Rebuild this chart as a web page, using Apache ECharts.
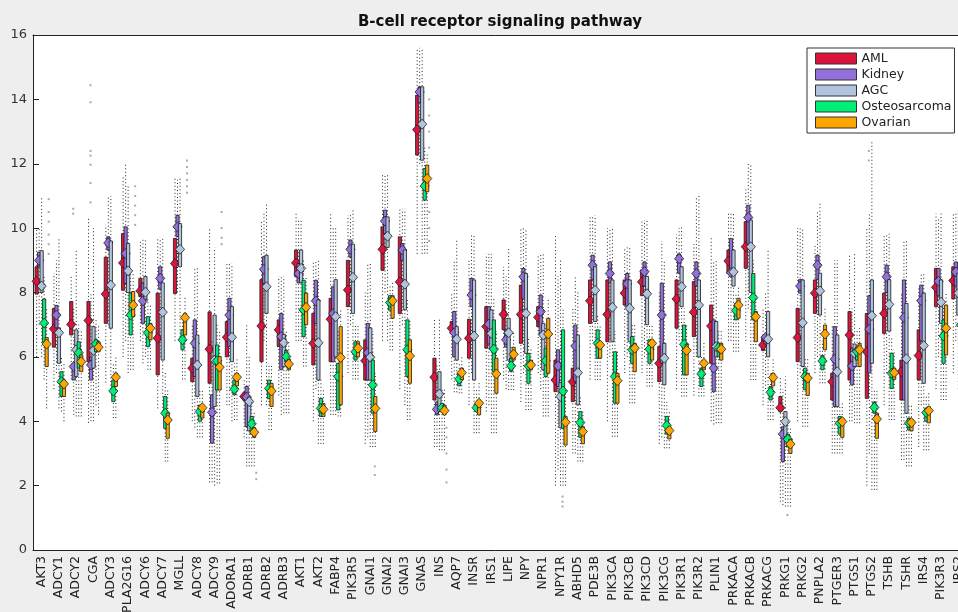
<!DOCTYPE html>
<html><head><meta charset="utf-8">
<script src="https://cdn.jsdelivr.net/npm/echarts@6/dist/echarts.min.js"></script>
<style>html,body{margin:0;padding:0;background:#eeeeee}#c{width:958px;height:612px}</style>
</head><body><div id="c"></div>
<script>
const categories = ['AKT3','ADCY1','ADCY2','CGA','ADCY3','PLA2G16','ADCY6','ADCY7','MGLL','ADCY8','ADCY9','ADORA1','ADRB1','ADRB2','ADRB3','AKT1','AKT2','FABP4','PIK3R5','GNAI1','GNAI2','GNAI3','GNAS','INS','AQP7','INSR','IRS1','LIPE','NPY','NPR1','NPY1R','ABHD5','PDE3B','PIK3CA','PIK3CB','PIK3CD','PIK3CG','PIK3R1','PIK3R2','PLIN1','PRKACA','PRKACB','PRKACG','PRKG1','PRKG2','PNPLA2','PTGER3','PTGS1','PTGS2','TSHB','TSHR','IRS4','PIK3R3','IRS2'];
const groupNames = ['AML','Kidney','AGC','Osteosarcoma','Ovarian'];
const yTicks = [0,2,4,6,8,10,12,14,16];
// rows per gene: [whisker low, q1, median, q3, whisker high]
const aml = [[6.0,7.95,8.35,8.8,10.0],[5.0,6.3,6.87,7.5,8.6],[5.3,6.68,7.01,7.72,8.5],[3.95,5.85,7.13,7.72,10.35],[5.2,7.04,7.95,9.1,10.1],[6.0,8.07,8.92,9.83,11.6],[6.5,7.87,8.05,8.44,9.6],[4.4,5.44,6.58,7.98,9.7],[6.5,7.97,8.9,9.68,11.6],[4.0,5.23,5.65,5.96,7.0],[2.1,5.18,6.24,7.4,10.0],[4.5,6.0,6.61,7.1,8.9],[3.5,4.66,4.77,4.88,5.3],[4.5,5.85,6.96,8.4,10.25],[4.8,6.32,6.84,7.15,8.5],[6.5,8.5,8.92,9.32,10.45],[4.0,5.75,6.42,7.35,9.0],[4.2,5.85,7.17,7.82,10.5],[5.5,7.56,8.08,9.0,10.4],[3.3,5.28,5.88,6.53,8.0],[6.5,8.69,9.34,10.04,11.7],[5.0,7.35,8.33,9.73,10.6],[9.2,12.27,13.06,14.13,15.6],[3.2,4.66,5.37,5.96,7.2],[5.3,6.73,6.89,7.1,8.0],[4.5,5.96,6.58,7.17,9.0],[4.3,6.27,6.94,7.56,9.2],[5.3,6.84,7.32,7.77,8.8],[4.6,6.42,7.32,8.23,10.0],[5.5,6.94,7.23,7.56,9.2],[2.0,4.92,5.28,5.9,9.8],[3.0,4.61,5.23,5.65,7.5],[5.3,7.04,7.74,8.39,10.4],[4.0,6.47,7.32,8.39,10.0],[5.5,7.61,7.98,8.39,9.4],[5.5,7.9,8.33,8.7,10.2],[3.3,5.23,5.8,6.32,8.0],[5.0,6.89,7.8,8.39,9.8],[4.8,6.63,7.39,8.34,9.5],[4.0,5.8,6.96,7.61,9.7],[6.5,8.59,8.98,9.32,10.5],[6.5,8.75,9.42,10.2,11.2],[4.5,6.2,6.37,6.6,7.5],[1.5,4.3,4.42,4.77,5.4],[4.0,5.85,6.6,7.51,10.0],[5.5,7.35,7.98,8.39,9.5],[3.0,4.66,5.23,5.49,7.0],[4.0,5.28,6.68,7.41,9.2],[2.0,4.71,6.16,7.35,10.0],[4.5,6.73,7.35,7.98,9.8],[2.8,4.66,5.54,5.9,8.0],[3.2,5.28,6.04,6.84,8.2],[5.0,7.56,8.16,8.75,10.45],[5.5,7.8,8.37,8.8,10.5]];
const kidney = [[7.0,8.8,9.0,9.25,10.0],[5.5,6.9,7.3,7.6,9.0],[4.2,5.28,5.7,5.8,7.5],[4.0,5.28,5.75,6.0,8.0],[7.0,9.32,9.54,9.73,11.0],[6.5,8.28,9.21,10.04,12.0],[5.8,7.04,7.74,8.29,9.7],[6.0,8.1,8.44,8.8,9.7],[8.0,9.73,10.04,10.4,11.5],[3.8,5.39,6.42,7.15,8.8],[2.1,3.32,4.28,4.82,6.5],[4.5,6.32,7.3,7.82,8.9],[2.6,3.83,4.75,5.08,7.0],[6.5,8.28,8.72,9.11,10.5],[4.2,5.6,6.63,7.35,8.5],[6.5,8.3,8.59,8.9,10.3],[5.0,7.04,7.74,8.38,9.0],[4.2,5.85,7.35,8.18,10.0],[7.0,9.1,9.34,9.63,10.4],[3.5,5.28,6.13,7.04,8.9],[8.0,9.83,10.22,10.56,11.7],[7.0,9.0,9.32,9.52,10.6],[12.0,13.9,14.23,14.39,15.6],[3.2,4.2,4.37,4.6,5.8],[4.9,6.0,6.75,7.41,9.0],[5.5,7.56,7.92,8.44,9.8],[4.5,6.4,7.02,7.56,9.2],[5.0,6.3,6.53,6.84,8.5],[5.5,7.8,8.49,8.75,10.0],[5.0,6.68,7.41,7.92,9.2],[2.5,5.08,5.72,6.22,8.5],[3.0,5.23,6.34,6.99,8.5],[6.5,8.4,8.85,9.16,10.4],[6.0,8.3,8.59,8.95,10.0],[6.0,7.56,8.27,8.59,9.4],[6.0,8.2,8.65,8.95,10.25],[3.5,5.8,7.3,8.29,9.6],[6.5,8.6,9.05,9.2,10.0],[6.0,8.2,8.59,8.95,11.0],[3.9,4.92,5.65,7.15,9.0],[6.5,8.5,8.62,9.68,10.5],[7.5,9.5,10.33,10.71,12.0],[5.0,6.4,6.61,6.7,8.0],[1.4,2.75,3.6,3.83,5.0],[5.5,7.98,8.2,8.4,10.0],[6.0,8.4,8.85,9.16,10.5],[3.0,4.46,5.93,6.94,9.0],[4.0,5.13,5.72,6.27,7.5],[3.0,5.5,6.86,7.9,10.5],[5.5,8.0,8.49,8.85,9.8],[2.8,4.66,7.22,8.39,9.6],[4.5,6.5,7.75,8.23,8.6],[6.0,7.9,8.35,8.75,10.3],[6.5,8.2,8.64,8.95,10.5]];
const agc = [[6.0,8.0,8.2,9.3,11.0],[4.4,5.8,6.75,6.9,9.7],[4.15,5.39,6.22,6.84,9.3],[4.0,5.65,6.2,6.94,10.0],[5.0,6.89,8.23,9.6,11.0],[5.5,8.0,8.67,9.52,11.3],[6.0,7.8,8.01,8.5,9.7],[4.2,5.9,7.39,8.3,9.7],[6.5,8.8,9.34,10.14,11.6],[3.5,4.77,5.75,6.68,8.8],[2.0,4.46,5.9,7.3,9.4],[4.0,5.85,6.61,7.56,8.9],[2.6,3.7,4.61,4.75,6.0],[4.5,7.35,8.18,9.16,10.76],[4.25,5.7,6.44,6.7,8.5],[6.5,8.3,8.75,9.32,10.3],[3.3,5.28,6.44,7.77,9.0],[4.2,6.0,7.25,8.4,10.0],[5.3,7.35,8.47,9.5,10.6],[3.2,5.28,5.99,6.9,8.9],[6.5,9.4,9.75,10.35,11.7],[4.5,7.46,8.26,9.32,10.6],[9.2,12.11,13.23,14.39,15.6],[3.1,4.3,4.85,5.54,7.2],[4.9,5.9,6.55,6.94,9.68],[3.63,5.28,6.65,8.39,9.78],[3.63,6.22,6.73,7.46,9.2],[4.97,5.9,6.75,7.2,9.4],[4.35,6.11,7.35,8.59,10.0],[4.15,5.6,6.68,7.04,9.2],[2.0,3.8,4.77,5.2,9.0],[2.75,4.51,5.51,6.68,8.0],[5.28,7.1,8.07,8.8,10.4],[3.52,6.47,7.54,8.39,10.0],[4.56,6.47,7.51,8.39,9.4],[5.08,7.0,7.96,8.5,10.25],[3.16,5.13,5.96,6.42,9.0],[4.77,7.56,8.18,8.8,10.04],[4.77,6.0,7.61,8.39,11.08],[3.94,6.0,6.32,7.1,9.0],[6.16,8.2,8.64,9.32,10.5],[5.28,8.0,9.42,10.25,11.96],[4.04,6.0,6.55,7.41,9.32],[1.35,3.52,3.99,4.3,5.39],[3.83,5.7,7.06,8.39,9.99],[5.18,7.3,8.05,8.6,10.82],[3.0,4.46,5.54,6.68,9.0],[3.94,5.7,6.11,6.4,9.2],[1.87,5.8,7.28,8.39,12.68],[4.04,6.8,7.63,8.4,9.83],[2.6,4.25,5.94,7.66,9.6],[3.1,5.18,6.35,7.98,8.6],[4.66,7.04,7.7,8.39,10.45],[5.0,7.3,7.98,8.6,10.56]];
const osteo = [[5.3,6.45,7.05,7.8,8.5],[4.3,4.77,5.23,5.54,6.0],[4.15,5.65,6.13,6.47,7.0],[4.5,6.16,6.4,6.53,7.2],[4.1,4.61,4.94,5.28,5.8],[5.6,6.68,7.3,7.98,8.6],[5.6,6.32,6.75,7.25,7.8],[2.75,3.78,4.25,4.77,5.5],[5.3,6.22,6.53,6.84,7.3],[3.5,4.0,4.3,4.5,5.0],[2.07,4.97,5.88,6.37,7.0],[4.04,4.82,5.0,5.28,5.8],[2.6,3.6,3.92,4.15,4.6],[3.73,4.7,5.02,5.28,5.8],[4.25,5.85,6.01,6.2,6.8],[5.7,6.63,7.46,8.38,9.0],[3.3,4.15,4.4,4.71,5.3],[4.15,4.35,5.39,5.8,6.8],[5.3,5.9,6.16,6.47,7.0],[3.2,4.25,5.13,5.9,6.8],[6.2,7.45,7.69,7.9,8.2],[4.04,5.39,6.22,7.15,7.8],[9.21,10.87,11.31,11.85,12.5],[3.1,4.3,4.42,4.55,5.0],[4.87,5.1,5.31,5.5,5.8],[3.63,4.3,4.42,4.56,5.0],[3.63,5.54,6.24,7.15,7.8],[4.97,5.55,5.72,5.96,6.3],[4.35,5.18,5.72,6.11,6.6],[4.15,5.39,5.88,6.27,7.0],[2.0,3.78,4.94,6.84,7.5],[2.75,3.5,3.96,4.3,4.8],[5.28,5.96,6.42,6.84,7.3],[3.52,4.56,5.39,6.16,6.8],[4.56,5.8,6.22,6.63,7.0],[5.08,5.8,6.24,6.53,7.0],[3.16,3.6,3.87,4.15,4.6],[4.77,5.44,6.39,6.99,7.5],[4.77,5.08,5.47,5.65,6.0],[3.94,6.0,6.29,6.42,6.8],[6.16,7.15,7.44,7.66,8.0],[5.28,7.15,7.84,8.59,9.0],[4.04,4.66,4.9,5.08,5.5],[1.35,3.2,3.44,3.6,4.0],[3.83,4.98,5.39,5.65,6.0],[5.18,5.6,5.87,6.04,6.5],[3.0,3.6,3.94,4.15,4.5],[3.94,5.9,6.16,6.3,6.8],[1.87,4.25,4.43,4.6,5.0],[4.04,5.02,5.49,6.11,6.6],[2.6,3.73,3.94,4.1,4.5],[3.1,4.0,4.27,4.4,4.8],[4.66,5.8,6.65,7.15,7.6],[5.0,6.5,6.99,7.4,8.0]];
const ovarian = [[4.4,5.7,6.4,6.6,7.5],[4.0,4.77,5.16,5.28,5.8],[4.15,5.54,5.85,6.06,6.8],[4.2,6.16,6.3,6.47,7.0],[4.1,5.08,5.37,5.49,6.0],[5.6,7.25,7.61,8.03,8.6],[5.6,6.53,6.89,7.04,7.6],[2.75,3.47,4.04,4.25,5.0],[5.3,6.68,7.22,7.35,7.9],[3.5,4.1,4.42,4.5,5.0],[2.07,4.97,5.68,6.01,6.8],[4.04,5.1,5.37,5.49,6.0],[2.6,3.5,3.66,3.8,4.3],[3.73,4.46,4.94,5.18,5.8],[4.25,5.6,5.78,5.93,6.5],[5.7,7.0,7.54,7.98,8.5],[3.3,4.15,4.37,4.55,5.0],[4.15,4.51,5.98,6.94,7.5],[5.3,6.0,6.27,6.47,7.0],[3.2,3.68,4.4,4.77,5.5],[6.2,7.2,7.74,7.9,8.3],[4.04,5.18,6.03,6.53,7.2],[9.21,11.13,11.54,11.96,12.3],[3.1,4.2,4.33,4.5,5.0],[4.87,5.3,5.51,5.65,6.0],[3.63,4.2,4.56,4.66,5.2],[3.63,4.87,5.47,5.96,6.8],[4.97,5.9,6.08,6.3,6.8],[4.35,5.6,5.75,5.9,6.3],[4.15,5.49,6.71,7.2,7.8],[2.0,3.26,3.97,4.15,5.0],[2.75,3.3,3.68,3.83,4.3],[5.28,5.96,6.37,6.47,7.0],[3.52,4.56,5.26,5.49,6.2],[4.56,5.54,6.27,6.42,7.0],[5.08,5.9,6.42,6.53,7.0],[3.16,3.45,3.71,3.83,4.3],[4.77,5.44,6.2,6.39,7.0],[4.77,5.6,5.8,5.9,6.5],[3.94,5.9,6.24,6.42,6.8],[6.16,7.2,7.61,7.82,8.2],[5.28,6.47,7.25,7.41,8.0],[4.04,5.1,5.36,5.49,6.0],[1.35,3.0,3.29,3.44,3.8],[3.83,4.8,5.34,5.49,6.0],[5.18,6.22,6.71,6.99,7.5],[3.0,3.5,3.99,4.1,4.6],[3.94,5.7,6.22,6.42,6.9],[1.87,3.47,4.07,4.25,5.0],[4.04,5.3,5.51,5.65,6.2],[2.6,3.7,3.96,4.05,4.5],[3.1,3.95,4.33,4.45,4.9],[4.66,6.06,6.89,7.61,8.0],[5.0,6.4,6.9,7.3,8.0]];
// outlying points: [gene index, group index, value]
const outliers = [[3,0,14.44],[3,0,13.91],[3,0,12.4],[3,0,12.25],[3,0,11.97],[3,0,11.4],[3,0,10.8],
 [0,4,10.9],[0,4,10.5],[0,4,10.2],[0,4,9.8],[0,4,9.5],[0,4,9.2],[2,0,10.6],[2,0,10.45],
 [5,4,11.3],[5,4,11.0],[5,4,10.7],[5,4,10.4],[5,4,10.1],[8,4,12.1],[8,4,11.9],[8,4,11.7],[8,4,11.5],[8,4,11.3],[8,4,11.1],
 [10,4,10.5],[10,4,10.0],[10,4,9.7],[10,4,9.5],[22,4,14.0],[22,4,13.5],[22,4,13.0],[22,4,12.5],[22,4,10.5],[22,4,10.0],[22,4,9.6],
 [23,4,3.8],[23,4,3.5],[23,4,3.0],[23,4,2.5],[23,4,2.1],[30,2,1.66],[30,2,1.5],[30,2,1.35],[43,2,1.09],[48,0,12.4],[48,0,12.1],
 [12,4,2.4],[12,4,2.2],[19,3,2.6],[19,3,2.33]];

const groupRows = [aml, kidney, agc, osteo, ovarian];
const COLORS = ['#DC143C','#9370DB','#B0C4DE','#00EE76','#FFA500'];
const OFFS = [-0.29,-0.145,0,0.145,0.29];

function boxRender(gi){
  return function(params, api){
    const k = api.value(0);
    const band = api.size([1,0])[0];
    const dx = OFFS[gi]*band;
    const pLo = api.coord([k, api.value(1)]);
    const pQ1 = api.coord([k, api.value(2)]);
    const pMed = api.coord([k, api.value(3)]);
    const pQ3 = api.coord([k, api.value(4)]);
    const pHi = api.coord([k, api.value(5)]);
    const x = pLo[0] + dx;
    const c = COLORS[gi];
    return {type:'group', children:[
      {type:'line', shape:{x1:x,y1:pLo[1],x2:x,y2:pHi[1]}, style:{stroke:'#222', lineWidth:1, lineDash:[1,2.5]}},
      {type:'rect', shape:{x:x-1.6, y:pQ3[1], width:3.2, height:Math.max(1,pQ1[1]-pQ3[1])}, style:{fill:c, stroke:'#1a1a1a', lineWidth:0.8}},
      {type:'polygon', shape:{points:[[x,pMed[1]-5],[x+4.6,pMed[1]],[x,pMed[1]+5],[x-4.6,pMed[1]]]}, style:{fill:c, stroke:'#222', lineWidth:0.8}}
    ]};
  };
}
function outRender(params, api){
  const k = api.value(0), g = api.value(1);
  const band = api.size([1,0])[0];
  const p = api.coord([k, api.value(2)]);
  const x = p[0] + OFFS[g]*band + 2;
  return {type:'rect', shape:{x:x-1, y:p[1]-1, width:2, height:2}, style:{fill:'#aaaaaa'}};
}

const series = groupNames.map((name, gi) => ({
  name, type:'custom', xAxisIndex:0, yAxisIndex:0,
  itemStyle:{color:COLORS[gi]},
  renderItem: boxRender(gi),
  encode:{x:0, y:[1,2,3,4,5]},
  data: groupRows[gi].map((r,i)=>[i, r[0], r[1], r[2], r[3], r[4]]),
  z: 3 + gi
}));
series.unshift({name:'points', type:'custom', renderItem: outRender, encode:{x:0,y:2}, data: outliers, z:2, silent:true});

const chart = echarts.init(document.getElementById('c'), null, {renderer:'canvas'});
const tickCommon = {alignWithLabel:true, inside:true, length:6, lineStyle:{color:'#222', width:1}};
chart.setOption({
  backgroundColor:'#eeeeee',
  animation:false,
  grid:{left:33, top:35, width:934, height:515, show:true, backgroundColor:'#ffffff', borderWidth:0, containLabel:false, outerBoundsMode:'none'},
  graphic:[{type:'text', x:500, y:22, style:{text:'B-cell receptor signaling pathway', font:'bold 15px "DejaVu Sans"', fill:'#111', textAlign:'center', textVerticalAlign:'middle'}}],
  legend:{data:groupNames, orient:'vertical', left:807, top:48, icon:'rect', itemWidth:41, itemHeight:11, itemGap:3,
    padding:[4,3,4,8], backgroundColor:'#ffffff', borderColor:'#333', borderWidth:1, borderRadius:0,
    itemStyle:{borderColor:'#333', borderWidth:1},
    textStyle:{fontFamily:'DejaVu Sans', fontSize:12.5, color:'#222', lineHeight:13}, selectedMode:false},
  xAxis:[
    {type:'category', data:categories, position:'bottom', boundaryGap:true,
     axisLine:{lineStyle:{color:'#222', width:1}}, axisTick:tickCommon,
     axisLabel:{rotate:90, interval:0, fontFamily:'DejaVu Sans', fontSize:12.5, color:'#222', margin:6}},
    {type:'category', data:categories, position:'top', boundaryGap:true,
     axisLine:{lineStyle:{color:'#222', width:1}}, axisTick:tickCommon, axisLabel:{show:false}}
  ],
  yAxis:{type:'value', min:yTicks[0], max:yTicks[yTicks.length-1], interval:2,
     axisLine:{show:true, lineStyle:{color:'#222', width:1}}, axisTick:{show:true, inside:true, length:6, lineStyle:{color:'#222'}},
     axisLabel:{fontFamily:'DejaVu Sans', fontSize:13, color:'#333', margin:6}, splitLine:{show:false}},
  series
});
</script></body></html>
